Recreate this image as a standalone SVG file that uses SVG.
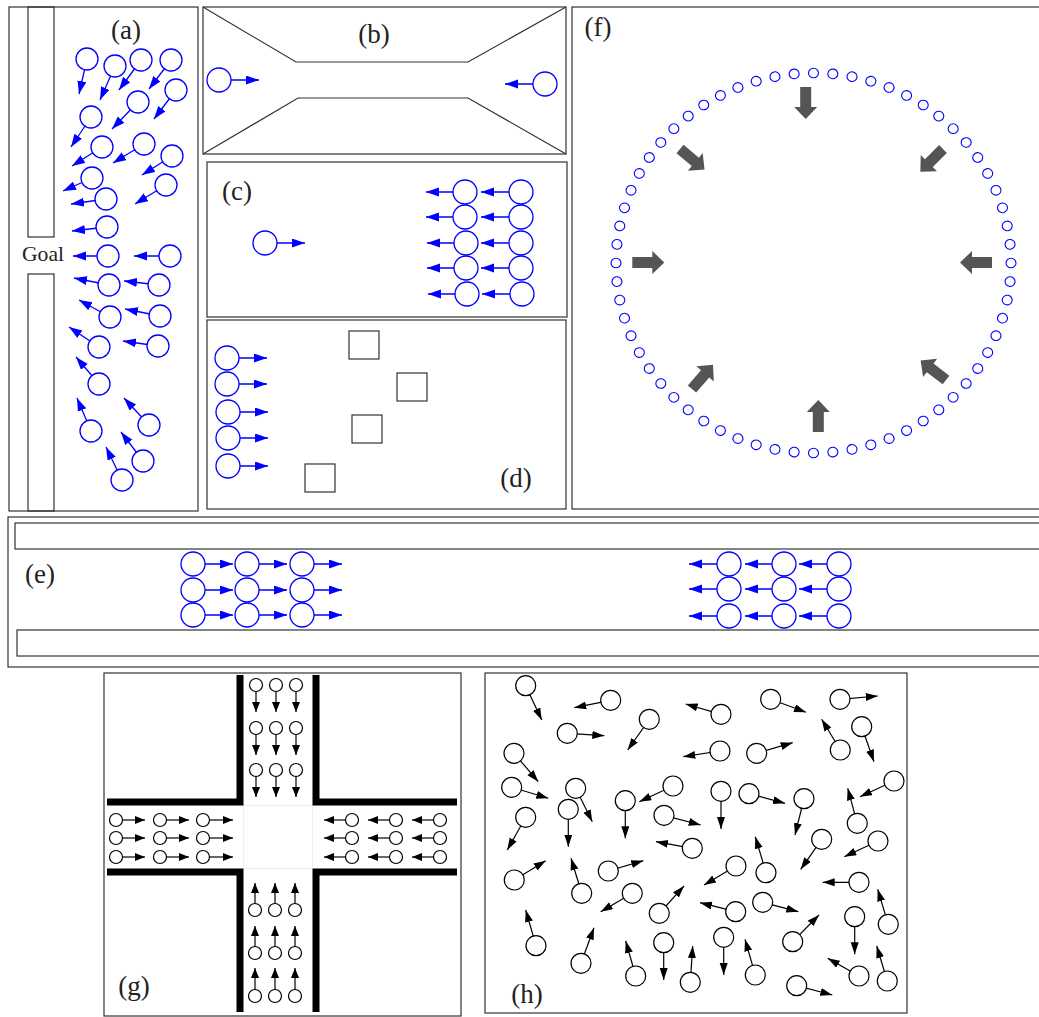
<svg xmlns="http://www.w3.org/2000/svg" xmlns:xlink="http://www.w3.org/1999/xlink" width="1039" height="1017" viewBox="0 0 1039 1017">
<style>
.fr{fill:none;stroke:#333;stroke-width:1.2}
.bc{fill:#fff;stroke:#0000ff;stroke-width:1.3}
.ba{stroke:#0000ff;stroke-width:1.3;marker-end:url(#hb)}
.sc{fill:none;stroke:#0000ff;stroke-width:1.1}
.kc{fill:#fff;stroke:#000;stroke-width:1.2}
.ka{stroke:#000;stroke-width:1.2;marker-end:url(#hk)}
.ga{stroke:#000;stroke-width:1.2;marker-end:url(#hg)}
.wall{fill:none;stroke:#000;stroke-width:7;stroke-linejoin:miter}
.blk{fill:#555}
.lbl{font-family:"Liberation Serif","DejaVu Serif",serif;font-size:27px;fill:#222;text-anchor:middle}
</style>
<defs>
<marker id="hb" markerUnits="userSpaceOnUse" markerWidth="14" markerHeight="10" refX="13" refY="4.5" orient="auto"><path d="M0,0 L13,4.5 L0,9 Z" fill="#0000ff"/></marker>
<marker id="hk" markerUnits="userSpaceOnUse" markerWidth="13" markerHeight="9" refX="12" refY="4" orient="auto"><path d="M0,0 L12,4 L0,8 Z" fill="#000"/></marker>
<marker id="hg" markerUnits="userSpaceOnUse" markerWidth="11" markerHeight="9" refX="10" refY="4" orient="auto"><path d="M0,0 L10,4 L0,8 Z" fill="#000"/></marker>
<circle id="sc" cx="0" cy="-197.5" r="5" class="sc"/>
<path id="gar" class="blk" d="M0,-5.5 H20 V-11.5 L32,0 L20,11.5 V5.5 H0 Z"/>
</defs>
<rect width="1039" height="1017" fill="#fff"/>

<!-- Panel (a) -->
<g id="panel-a">
<rect class="fr" x="9" y="7" width="189" height="504"/>
<rect class="fr" x="28" y="7" width="26" height="230"/>
<rect class="fr" x="28" y="274" width="26" height="237"/>
<text class="lbl" x="126" y="39">(a)</text>
<text x="43" y="261" font-family="Liberation Serif, DejaVu Serif, serif" font-size="21" fill="#222" text-anchor="middle" textLength="42" lengthAdjust="spacingAndGlyphs">Goal</text>
<g id="a-arrows">
<line class="ba" x1="87" y1="59" x2="79" y2="94"/>
<line class="ba" x1="115" y1="66" x2="100" y2="100"/>
<line class="ba" x1="141" y1="60" x2="119" y2="90"/>
<line class="ba" x1="171" y1="60" x2="149" y2="89"/>
<line class="ba" x1="176" y1="90" x2="154" y2="119"/>
<line class="ba" x1="138" y1="102" x2="112" y2="129"/>
<line class="ba" x1="91" y1="117" x2="71" y2="147"/>
<line class="ba" x1="102" y1="147" x2="72" y2="166"/>
<line class="ba" x1="144" y1="144" x2="113" y2="163"/>
<line class="ba" x1="172" y1="156" x2="142" y2="175"/>
<line class="ba" x1="92" y1="178" x2="63" y2="191"/>
<line class="ba" x1="166" y1="185" x2="135" y2="204"/>
<line class="ba" x1="106" y1="199" x2="71" y2="204"/>
<line class="ba" x1="107" y1="227" x2="72" y2="231"/>
<line class="ba" x1="108" y1="256" x2="73" y2="256"/>
<line class="ba" x1="170" y1="256" x2="134" y2="256"/>
<line class="ba" x1="109" y1="285" x2="74" y2="278"/>
<line class="ba" x1="159" y1="285" x2="124" y2="281"/>
<line class="ba" x1="110" y1="317" x2="79" y2="300"/>
<line class="ba" x1="160" y1="316" x2="125" y2="309"/>
<line class="ba" x1="99" y1="347" x2="69" y2="327"/>
<line class="ba" x1="158" y1="346" x2="123" y2="341"/>
<line class="ba" x1="99" y1="384" x2="76" y2="357"/>
<line class="ba" x1="91" y1="431" x2="77" y2="398"/>
<line class="ba" x1="149" y1="425" x2="124" y2="398"/>
<line class="ba" x1="143" y1="461" x2="121" y2="432"/>
<line class="ba" x1="122" y1="480" x2="106" y2="447"/>
</g>
<g id="a-agents">
<circle class="bc" cx="87" cy="59" r="11"/>
<circle class="bc" cx="115" cy="66" r="11"/>
<circle class="bc" cx="141" cy="60" r="11"/>
<circle class="bc" cx="171" cy="60" r="11"/>
<circle class="bc" cx="176" cy="90" r="11"/>
<circle class="bc" cx="138" cy="102" r="11"/>
<circle class="bc" cx="91" cy="117" r="11"/>
<circle class="bc" cx="102" cy="147" r="11"/>
<circle class="bc" cx="144" cy="144" r="11"/>
<circle class="bc" cx="172" cy="156" r="11"/>
<circle class="bc" cx="92" cy="178" r="11"/>
<circle class="bc" cx="166" cy="185" r="11"/>
<circle class="bc" cx="106" cy="199" r="11"/>
<circle class="bc" cx="107" cy="227" r="11"/>
<circle class="bc" cx="108" cy="256" r="11"/>
<circle class="bc" cx="170" cy="256" r="11"/>
<circle class="bc" cx="109" cy="285" r="11"/>
<circle class="bc" cx="159" cy="285" r="11"/>
<circle class="bc" cx="110" cy="317" r="11"/>
<circle class="bc" cx="160" cy="316" r="11"/>
<circle class="bc" cx="99" cy="347" r="11"/>
<circle class="bc" cx="158" cy="346" r="11"/>
<circle class="bc" cx="99" cy="384" r="11"/>
<circle class="bc" cx="91" cy="431" r="11"/>
<circle class="bc" cx="149" cy="425" r="11"/>
<circle class="bc" cx="143" cy="461" r="11"/>
<circle class="bc" cx="122" cy="480" r="11"/>
</g>
</g>

<!-- Panel (b) -->
<g id="panel-b">
<rect class="fr" x="203" y="7" width="363" height="147"/>
<polyline class="fr" points="203,7 296,62 468,62 566,7"/>
<polyline class="fr" points="203,154 298,98 468,98 566,154"/>
<text class="lbl" x="374" y="43">(b)</text>
<line class="ba" x1="219" y1="80" x2="259" y2="80"/>
<line class="ba" x1="545" y1="84" x2="505" y2="84"/>
<circle class="bc" cx="219" cy="80" r="12"/>
<circle class="bc" cx="545" cy="84" r="12"/>
</g>

<!-- Panel (c) -->
<g id="panel-c">
<rect class="fr" x="207" y="162" width="360" height="155"/>
<text class="lbl" x="237" y="200">(c)</text>
<g id="c-arrows">
<line class="ba" x1="265" y1="243" x2="305" y2="243"/>
<line class="ba" x1="465" y1="192" x2="426" y2="192"/>
<line class="ba" x1="465" y1="217" x2="426" y2="217"/>
<line class="ba" x1="466" y1="243" x2="427" y2="243"/>
<line class="ba" x1="466" y1="268" x2="427" y2="268"/>
<line class="ba" x1="467" y1="294" x2="428" y2="294"/>
<line class="ba" x1="521" y1="192" x2="481" y2="192"/>
<line class="ba" x1="521" y1="217" x2="481" y2="217"/>
<line class="ba" x1="521" y1="243" x2="481" y2="243"/>
<line class="ba" x1="521" y1="268" x2="481" y2="268"/>
<line class="ba" x1="522" y1="294" x2="482" y2="294"/>
</g>
<g id="c-agents">
<circle class="bc" cx="265" cy="243" r="12"/>
<circle class="bc" cx="465" cy="192" r="12"/>
<circle class="bc" cx="465" cy="217" r="12"/>
<circle class="bc" cx="466" cy="243" r="12"/>
<circle class="bc" cx="466" cy="268" r="12"/>
<circle class="bc" cx="467" cy="294" r="12"/>
<circle class="bc" cx="521" cy="192" r="12"/>
<circle class="bc" cx="521" cy="217" r="12"/>
<circle class="bc" cx="521" cy="243" r="12"/>
<circle class="bc" cx="521" cy="268" r="12"/>
<circle class="bc" cx="522" cy="294" r="12"/>
</g>
</g>

<!-- Panel (d) -->
<g id="panel-d">
<rect class="fr" x="207" y="320" width="359" height="189"/>
<rect class="fr" x="349" y="331" width="30" height="28"/>
<rect class="fr" x="397" y="373" width="30" height="28"/>
<rect class="fr" x="352" y="415" width="30" height="28"/>
<rect class="fr" x="305" y="464" width="30" height="28"/>
<text class="lbl" x="516" y="487">(d)</text>
<line class="ba" x1="227" y1="358" x2="267" y2="358"/>
<line class="ba" x1="227" y1="384" x2="267" y2="384"/>
<line class="ba" x1="228" y1="412" x2="268" y2="412"/>
<line class="ba" x1="228" y1="438" x2="268" y2="438"/>
<line class="ba" x1="228" y1="466" x2="268" y2="466"/>
<circle class="bc" cx="227" cy="358" r="12"/>
<circle class="bc" cx="227" cy="384" r="12"/>
<circle class="bc" cx="228" cy="412" r="12"/>
<circle class="bc" cx="228" cy="438" r="12"/>
<circle class="bc" cx="228" cy="466" r="12"/>
</g>

<!-- Panel (f) -->
<g id="panel-f">
<rect class="fr" x="572" y="7" width="480" height="502"/>
<text class="lbl" x="598" y="36">(f)</text>
<g id="f-ring" transform="translate(813.5,263) scale(1,0.962)">
<use href="#sc" transform="rotate(0)"/><use href="#sc" transform="rotate(5.625)"/><use href="#sc" transform="rotate(11.25)"/><use href="#sc" transform="rotate(16.875)"/>
<use href="#sc" transform="rotate(22.5)"/><use href="#sc" transform="rotate(28.125)"/><use href="#sc" transform="rotate(33.75)"/><use href="#sc" transform="rotate(39.375)"/>
<use href="#sc" transform="rotate(45)"/><use href="#sc" transform="rotate(50.625)"/><use href="#sc" transform="rotate(56.25)"/><use href="#sc" transform="rotate(61.875)"/>
<use href="#sc" transform="rotate(67.5)"/><use href="#sc" transform="rotate(73.125)"/><use href="#sc" transform="rotate(78.75)"/><use href="#sc" transform="rotate(84.375)"/>
<use href="#sc" transform="rotate(90)"/><use href="#sc" transform="rotate(95.625)"/><use href="#sc" transform="rotate(101.25)"/><use href="#sc" transform="rotate(106.875)"/>
<use href="#sc" transform="rotate(112.5)"/><use href="#sc" transform="rotate(118.125)"/><use href="#sc" transform="rotate(123.75)"/><use href="#sc" transform="rotate(129.375)"/>
<use href="#sc" transform="rotate(135)"/><use href="#sc" transform="rotate(140.625)"/><use href="#sc" transform="rotate(146.25)"/><use href="#sc" transform="rotate(151.875)"/>
<use href="#sc" transform="rotate(157.5)"/><use href="#sc" transform="rotate(163.125)"/><use href="#sc" transform="rotate(168.75)"/><use href="#sc" transform="rotate(174.375)"/>
<use href="#sc" transform="rotate(180)"/><use href="#sc" transform="rotate(185.625)"/><use href="#sc" transform="rotate(191.25)"/><use href="#sc" transform="rotate(196.875)"/>
<use href="#sc" transform="rotate(202.5)"/><use href="#sc" transform="rotate(208.125)"/><use href="#sc" transform="rotate(213.75)"/><use href="#sc" transform="rotate(219.375)"/>
<use href="#sc" transform="rotate(225)"/><use href="#sc" transform="rotate(230.625)"/><use href="#sc" transform="rotate(236.25)"/><use href="#sc" transform="rotate(241.875)"/>
<use href="#sc" transform="rotate(247.5)"/><use href="#sc" transform="rotate(253.125)"/><use href="#sc" transform="rotate(258.75)"/><use href="#sc" transform="rotate(264.375)"/>
<use href="#sc" transform="rotate(270)"/><use href="#sc" transform="rotate(275.625)"/><use href="#sc" transform="rotate(281.25)"/><use href="#sc" transform="rotate(286.875)"/>
<use href="#sc" transform="rotate(292.5)"/><use href="#sc" transform="rotate(298.125)"/><use href="#sc" transform="rotate(303.75)"/><use href="#sc" transform="rotate(309.375)"/>
<use href="#sc" transform="rotate(315)"/><use href="#sc" transform="rotate(320.625)"/><use href="#sc" transform="rotate(326.25)"/><use href="#sc" transform="rotate(331.875)"/>
<use href="#sc" transform="rotate(337.5)"/><use href="#sc" transform="rotate(343.125)"/><use href="#sc" transform="rotate(348.75)"/><use href="#sc" transform="rotate(354.375)"/>
</g>
<g id="f-arrows">
<use href="#gar" transform="translate(805.7,87) rotate(90)"/>
<use href="#gar" transform="translate(818.3,432) rotate(-90)"/>
<use href="#gar" transform="translate(632.3,262.5)"/>
<use href="#gar" transform="translate(992,262.5) rotate(180)"/>
<use href="#gar" transform="translate(680,149) rotate(40)"/>
<use href="#gar" transform="translate(943,149) rotate(135)"/>
<use href="#gar" transform="translate(692,389) rotate(-49)"/>
<use href="#gar" transform="translate(946,380) rotate(-142.5)"/>
</g>
</g>

<!-- Panel (e) -->
<g id="panel-e">
<rect class="fr" x="8" y="517" width="1040" height="150"/>
<rect class="fr" x="15" y="523" width="1030" height="26"/>
<rect class="fr" x="17" y="630" width="1030" height="26"/>
<text class="lbl" x="40" y="583">(e)</text>
<g id="e-arrows">
<line class="ba" x1="193" y1="564" x2="233" y2="564"/>
<line class="ba" x1="247" y1="564" x2="287" y2="564"/>
<line class="ba" x1="302" y1="564" x2="342" y2="564"/>
<line class="ba" x1="193" y1="590" x2="233" y2="590"/>
<line class="ba" x1="247" y1="590" x2="287" y2="590"/>
<line class="ba" x1="302" y1="590" x2="342" y2="590"/>
<line class="ba" x1="193" y1="615" x2="233" y2="615"/>
<line class="ba" x1="247" y1="615" x2="287" y2="615"/>
<line class="ba" x1="302" y1="615" x2="342" y2="615"/>
<line class="ba" x1="729" y1="564" x2="689" y2="564"/>
<line class="ba" x1="784" y1="564" x2="745" y2="564"/>
<line class="ba" x1="839" y1="564" x2="799" y2="564"/>
<line class="ba" x1="729" y1="589" x2="689" y2="589"/>
<line class="ba" x1="784" y1="589" x2="745" y2="589"/>
<line class="ba" x1="839" y1="589" x2="799" y2="589"/>
<line class="ba" x1="729" y1="616" x2="689" y2="616"/>
<line class="ba" x1="784" y1="616" x2="745" y2="616"/>
<line class="ba" x1="839" y1="616" x2="799" y2="616"/>
</g>
<g id="e-agents">
<circle class="bc" cx="193" cy="564" r="12"/><circle class="bc" cx="247" cy="564" r="12"/><circle class="bc" cx="302" cy="564" r="12"/>
<circle class="bc" cx="193" cy="590" r="12"/><circle class="bc" cx="247" cy="590" r="12"/><circle class="bc" cx="302" cy="590" r="12"/>
<circle class="bc" cx="193" cy="615" r="12"/><circle class="bc" cx="247" cy="615" r="12"/><circle class="bc" cx="302" cy="615" r="12"/>
<circle class="bc" cx="729" cy="564" r="12"/><circle class="bc" cx="784" cy="564" r="12"/><circle class="bc" cx="839" cy="564" r="12"/>
<circle class="bc" cx="729" cy="589" r="12"/><circle class="bc" cx="784" cy="589" r="12"/><circle class="bc" cx="839" cy="589" r="12"/>
<circle class="bc" cx="729" cy="616" r="12"/><circle class="bc" cx="784" cy="616" r="12"/><circle class="bc" cx="839" cy="616" r="12"/>
</g>
</g>

<!-- Panel (g) -->
<g id="panel-g">
<rect class="fr" x="104" y="673" width="357" height="343"/>
<rect x="243.5" y="805.5" width="69" height="63" fill="none" stroke="#eee" stroke-width="1"/>
<polyline class="wall" points="240,675 240,802 107,802"/>
<polyline class="wall" points="316,675 316,802 457,802"/>
<polyline class="wall" points="107,872 240,872 240,1012"/>
<polyline class="wall" points="457,872 316,872 316,1012"/>
<text class="lbl" x="134" y="995">(g)</text>
<g id="g-arrows">
<line class="ga" x1="256" y1="685" x2="256" y2="712"/><line class="ga" x1="276" y1="685" x2="276" y2="712"/><line class="ga" x1="296" y1="685" x2="296" y2="712"/>
<line class="ga" x1="256" y1="728" x2="256" y2="755"/><line class="ga" x1="276" y1="728" x2="276" y2="755"/><line class="ga" x1="296" y1="728" x2="296" y2="755"/>
<line class="ga" x1="256" y1="770" x2="256" y2="797"/><line class="ga" x1="276" y1="770" x2="276" y2="797"/><line class="ga" x1="296" y1="770" x2="296" y2="797"/>
<line class="ga" x1="255" y1="910" x2="255" y2="883"/><line class="ga" x1="275" y1="910" x2="275" y2="883"/><line class="ga" x1="295" y1="910" x2="295" y2="883"/>
<line class="ga" x1="255" y1="953" x2="255" y2="926"/><line class="ga" x1="275" y1="953" x2="275" y2="926"/><line class="ga" x1="295" y1="953" x2="295" y2="926"/>
<line class="ga" x1="255" y1="996" x2="255" y2="968"/><line class="ga" x1="275" y1="996" x2="275" y2="968"/><line class="ga" x1="295" y1="996" x2="295" y2="968"/>
<line class="ga" x1="116" y1="820" x2="145" y2="820"/><line class="ga" x1="160" y1="820" x2="189" y2="820"/><line class="ga" x1="203" y1="820" x2="233" y2="820"/>
<line class="ga" x1="116" y1="838" x2="145" y2="838"/><line class="ga" x1="160" y1="838" x2="189" y2="838"/><line class="ga" x1="203" y1="838" x2="233" y2="838"/>
<line class="ga" x1="116" y1="857" x2="145" y2="857"/><line class="ga" x1="160" y1="857" x2="189" y2="857"/><line class="ga" x1="203" y1="857" x2="233" y2="857"/>
<line class="ga" x1="352" y1="820" x2="324" y2="820"/><line class="ga" x1="396" y1="820" x2="368" y2="820"/><line class="ga" x1="440" y1="820" x2="412" y2="820"/>
<line class="ga" x1="352" y1="838" x2="324" y2="838"/><line class="ga" x1="396" y1="838" x2="368" y2="838"/><line class="ga" x1="440" y1="838" x2="412" y2="838"/>
<line class="ga" x1="352" y1="857" x2="324" y2="857"/><line class="ga" x1="396" y1="857" x2="368" y2="857"/><line class="ga" x1="440" y1="857" x2="412" y2="857"/>
</g>
<g id="g-agents">
<circle class="kc" cx="256" cy="685" r="6.5"/><circle class="kc" cx="276" cy="685" r="6.5"/><circle class="kc" cx="296" cy="685" r="6.5"/>
<circle class="kc" cx="256" cy="728" r="6.5"/><circle class="kc" cx="276" cy="728" r="6.5"/><circle class="kc" cx="296" cy="728" r="6.5"/>
<circle class="kc" cx="256" cy="770" r="6.5"/><circle class="kc" cx="276" cy="770" r="6.5"/><circle class="kc" cx="296" cy="770" r="6.5"/>
<circle class="kc" cx="255" cy="910" r="6.5"/><circle class="kc" cx="275" cy="910" r="6.5"/><circle class="kc" cx="295" cy="910" r="6.5"/>
<circle class="kc" cx="255" cy="953" r="6.5"/><circle class="kc" cx="275" cy="953" r="6.5"/><circle class="kc" cx="295" cy="953" r="6.5"/>
<circle class="kc" cx="255" cy="996" r="6.5"/><circle class="kc" cx="275" cy="996" r="6.5"/><circle class="kc" cx="295" cy="996" r="6.5"/>
<circle class="kc" cx="116" cy="820" r="6.5"/><circle class="kc" cx="160" cy="820" r="6.5"/><circle class="kc" cx="203" cy="820" r="6.5"/>
<circle class="kc" cx="116" cy="838" r="6.5"/><circle class="kc" cx="160" cy="838" r="6.5"/><circle class="kc" cx="203" cy="838" r="6.5"/>
<circle class="kc" cx="116" cy="857" r="6.5"/><circle class="kc" cx="160" cy="857" r="6.5"/><circle class="kc" cx="203" cy="857" r="6.5"/>
<circle class="kc" cx="352" cy="820" r="6.5"/><circle class="kc" cx="396" cy="820" r="6.5"/><circle class="kc" cx="440" cy="820" r="6.5"/>
<circle class="kc" cx="352" cy="838" r="6.5"/><circle class="kc" cx="396" cy="838" r="6.5"/><circle class="kc" cx="440" cy="838" r="6.5"/>
<circle class="kc" cx="352" cy="857" r="6.5"/><circle class="kc" cx="396" cy="857" r="6.5"/><circle class="kc" cx="440" cy="857" r="6.5"/>
</g>
</g>

<!-- Panel (h) -->
<g id="panel-h">
<rect class="fr" x="485" y="673" width="422" height="340"/>
<text class="lbl" x="527" y="1003">(h)</text>
<g id="h-arrows">
<line class="ka" x1="525.7" y1="685.7" x2="541.7" y2="720"/>
<line class="ka" x1="610.7" y1="700.3" x2="574.3" y2="707.7"/>
<line class="ka" x1="567.3" y1="733.3" x2="604.3" y2="735.7"/>
<line class="ka" x1="649.3" y1="719.3" x2="627.7" y2="750"/>
<line class="ka" x1="721" y1="714.3" x2="685.7" y2="704"/>
<line class="ka" x1="770.7" y1="699.3" x2="806" y2="712.3"/>
<line class="ka" x1="840" y1="699.3" x2="877.7" y2="696"/>
<line class="ka" x1="861.7" y1="726.7" x2="874" y2="761.7"/>
<line class="ka" x1="840.3" y1="750" x2="821.7" y2="719.3"/>
<line class="ka" x1="720" y1="751" x2="683.3" y2="756.7"/>
<line class="ka" x1="756.7" y1="753.3" x2="792.7" y2="742.7"/>
<line class="ka" x1="514" y1="753.3" x2="538.3" y2="781.7"/>
<line class="ka" x1="511.7" y1="787.3" x2="548.3" y2="798.3"/>
<line class="ka" x1="575.7" y1="788.3" x2="592.3" y2="821.7"/>
<line class="ka" x1="568.3" y1="809.3" x2="568.3" y2="846.7"/>
<line class="ka" x1="525.7" y1="817.3" x2="507.3" y2="850"/>
<line class="ka" x1="625.3" y1="800.7" x2="625.3" y2="838.3"/>
<line class="ka" x1="673" y1="786" x2="639.3" y2="801.7"/>
<line class="ka" x1="664" y1="815.3" x2="700.7" y2="825"/>
<line class="ka" x1="721" y1="791.3" x2="721" y2="829"/>
<line class="ka" x1="749" y1="793.7" x2="785" y2="803.3"/>
<line class="ka" x1="804" y1="798.7" x2="795" y2="835"/>
<line class="ka" x1="894" y1="781" x2="860" y2="796.7"/>
<line class="ka" x1="857.3" y1="823.3" x2="847.7" y2="788.3"/>
<line class="ka" x1="878" y1="841" x2="844.3" y2="856.7"/>
<line class="ka" x1="821.7" y1="839.3" x2="800.7" y2="869.3"/>
<line class="ka" x1="692.3" y1="848.3" x2="656" y2="841.7"/>
<line class="ka" x1="766" y1="872.7" x2="755.3" y2="836.7"/>
<line class="ka" x1="859" y1="882.3" x2="822.7" y2="882.3"/>
<line class="ka" x1="514.3" y1="880" x2="545.7" y2="860.7"/>
<line class="ka" x1="581.7" y1="893.3" x2="571" y2="858.3"/>
<line class="ka" x1="608.3" y1="871" x2="643.3" y2="860.7"/>
<line class="ka" x1="632.3" y1="893.3" x2="600.7" y2="911.7"/>
<line class="ka" x1="736" y1="866" x2="704" y2="885"/>
<line class="ka" x1="659.3" y1="913.3" x2="684" y2="886"/>
<line class="ka" x1="735.7" y1="911.7" x2="700" y2="902.7"/>
<line class="ka" x1="762.7" y1="902.3" x2="798.3" y2="911.7"/>
<line class="ka" x1="792.7" y1="941.7" x2="819" y2="915"/>
<line class="ka" x1="854.7" y1="916.7" x2="854.7" y2="954.3"/>
<line class="ka" x1="888.3" y1="924.3" x2="877.7" y2="889.3"/>
<line class="ka" x1="536" y1="945.7" x2="525.7" y2="910"/>
<line class="ka" x1="581" y1="963.3" x2="594" y2="927.7"/>
<line class="ka" x1="635.7" y1="976" x2="625.7" y2="941"/>
<line class="ka" x1="663.7" y1="942.7" x2="663.7" y2="980"/>
<line class="ka" x1="690.3" y1="982.3" x2="692.7" y2="946"/>
<line class="ka" x1="723.7" y1="937.3" x2="723.7" y2="975"/>
<line class="ka" x1="755.3" y1="975" x2="745" y2="939.3"/>
<line class="ka" x1="796.7" y1="985.7" x2="832.3" y2="995"/>
<line class="ka" x1="859" y1="976" x2="827.7" y2="958.3"/>
<line class="ka" x1="887.3" y1="981" x2="876.7" y2="946"/>
</g>
<g id="h-agents">
<circle class="kc" cx="525.7" cy="685.7" r="10"/>
<circle class="kc" cx="610.7" cy="700.3" r="10"/>
<circle class="kc" cx="567.3" cy="733.3" r="10"/>
<circle class="kc" cx="649.3" cy="719.3" r="10"/>
<circle class="kc" cx="721" cy="714.3" r="10"/>
<circle class="kc" cx="770.7" cy="699.3" r="10"/>
<circle class="kc" cx="840" cy="699.3" r="10"/>
<circle class="kc" cx="861.7" cy="726.7" r="10"/>
<circle class="kc" cx="840.3" cy="750" r="10"/>
<circle class="kc" cx="720" cy="751" r="10"/>
<circle class="kc" cx="756.7" cy="753.3" r="10"/>
<circle class="kc" cx="514" cy="753.3" r="10"/>
<circle class="kc" cx="511.7" cy="787.3" r="10"/>
<circle class="kc" cx="575.7" cy="788.3" r="10"/>
<circle class="kc" cx="568.3" cy="809.3" r="10"/>
<circle class="kc" cx="525.7" cy="817.3" r="10"/>
<circle class="kc" cx="625.3" cy="800.7" r="10"/>
<circle class="kc" cx="673" cy="786" r="10"/>
<circle class="kc" cx="664" cy="815.3" r="10"/>
<circle class="kc" cx="721" cy="791.3" r="10"/>
<circle class="kc" cx="749" cy="793.7" r="10"/>
<circle class="kc" cx="804" cy="798.7" r="10"/>
<circle class="kc" cx="894" cy="781" r="10"/>
<circle class="kc" cx="857.3" cy="823.3" r="10"/>
<circle class="kc" cx="878" cy="841" r="10"/>
<circle class="kc" cx="821.7" cy="839.3" r="10"/>
<circle class="kc" cx="692.3" cy="848.3" r="10"/>
<circle class="kc" cx="766" cy="872.7" r="10"/>
<circle class="kc" cx="859" cy="882.3" r="10"/>
<circle class="kc" cx="514.3" cy="880" r="10"/>
<circle class="kc" cx="581.7" cy="893.3" r="10"/>
<circle class="kc" cx="608.3" cy="871" r="10"/>
<circle class="kc" cx="632.3" cy="893.3" r="10"/>
<circle class="kc" cx="736" cy="866" r="10"/>
<circle class="kc" cx="659.3" cy="913.3" r="10"/>
<circle class="kc" cx="735.7" cy="911.7" r="10"/>
<circle class="kc" cx="762.7" cy="902.3" r="10"/>
<circle class="kc" cx="792.7" cy="941.7" r="10"/>
<circle class="kc" cx="854.7" cy="916.7" r="10"/>
<circle class="kc" cx="888.3" cy="924.3" r="10"/>
<circle class="kc" cx="536" cy="945.7" r="10"/>
<circle class="kc" cx="581" cy="963.3" r="10"/>
<circle class="kc" cx="635.7" cy="976" r="10"/>
<circle class="kc" cx="663.7" cy="942.7" r="10"/>
<circle class="kc" cx="690.3" cy="982.3" r="10"/>
<circle class="kc" cx="723.7" cy="937.3" r="10"/>
<circle class="kc" cx="755.3" cy="975" r="10"/>
<circle class="kc" cx="796.7" cy="985.7" r="10"/>
<circle class="kc" cx="859" cy="976" r="10"/>
<circle class="kc" cx="887.3" cy="981" r="10"/>
</g>
</g>
</svg>
